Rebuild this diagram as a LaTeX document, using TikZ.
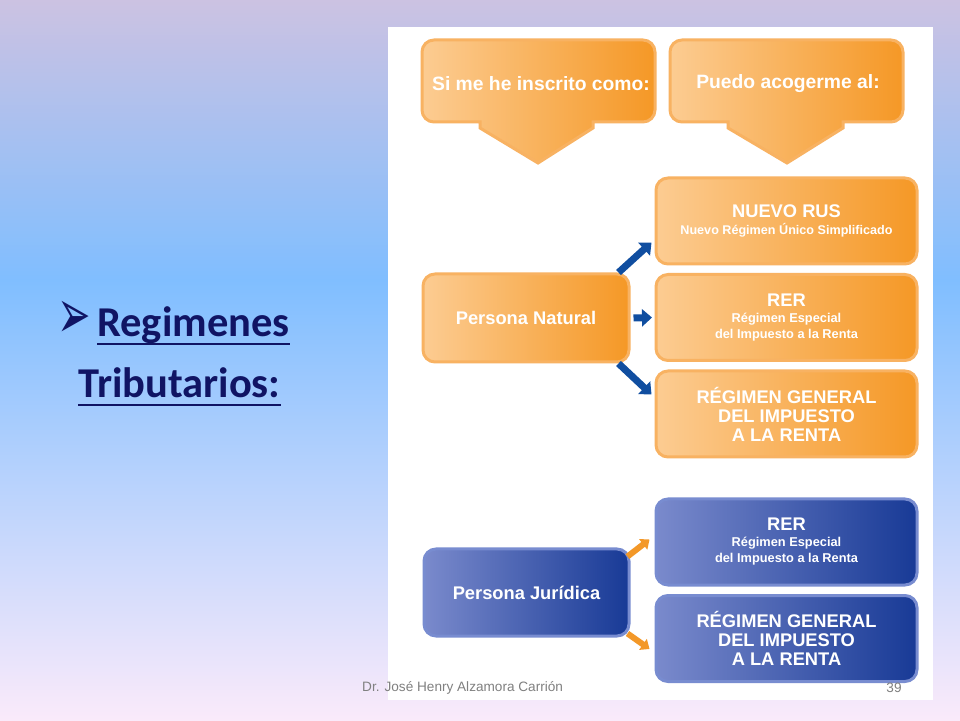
\documentclass[tikz,border=0pt]{standalone}
\usepackage{fontspec}
\usepackage{graphicx}
\setmainfont{Liberation Sans}
\newfontfamily\titlefont{Carlito}
\newfontfamily\symfont{DejaVu Sans}
\usetikzlibrary{arrows.meta}

\definecolor{orlight}{RGB}{252,204,146}
\definecolor{ordark}{RGB}{245,152,38}
\definecolor{orrim}{RGB}{248,178,98}
\definecolor{bllight}{RGB}{122,138,204}
\definecolor{bldark}{RGB}{24,58,150}
\definecolor{blrim}{RGB}{120,140,208}
\definecolor{arrblue}{RGB}{16,78,160}
\definecolor{arrorange}{RGB}{243,152,40}
\definecolor{navy}{RGB}{16,20,100}
\definecolor{bgtop}{RGB}{204,194,226}
\definecolor{bgmid}{RGB}{128,190,255}
\definecolor{bgbot}{RGB}{250,234,250}

\newcommand{\bigtxt}{\fontsize{18.3}{19}\selectfont}
\newcommand{\subtxt}{\fontsize{12.8}{14.5}\selectfont}

\tikzset{
  orbox/.style={rounded corners=12pt, left color=orlight, right color=ordark,
    draw=orrim, line width=3pt, text=white, font=\bfseries\bigtxt,
    align=center, inner sep=0pt, minimum width=261pt, minimum height=86pt},
  blbox/.style={orbox, left color=bllight, right color=bldark, draw=blrim},
  headshape/.style={left color=orlight, right color=ordark, draw=orrim, line width=3pt},
  headtext/.style={text=white, font=\bfseries\fontsize{19.3}{20}\selectfont},
  bluearr/.style={draw=arrblue, line width=7pt, -{Triangle[width=17pt,length=10pt]}},
  orarr/.style={draw=arrorange, line width=6pt, -{Triangle[width=13pt,length=8pt]}},
  titletext/.style={text=navy, font=\titlefont\bfseries\fontsize{42.5}{50}\selectfont, inner sep=0pt},
  uline/.style={draw=navy, line width=2.6pt},
  foot/.style={text=black!50, font=\fontsize{13.6}{16}\selectfont, inner sep=0pt}
}

\begin{document}
\begin{tikzpicture}[x=1pt,y=1pt]
  \useasboundingbox (0,0) rectangle (960,720);
  % background
  \shade[top color=bgtop, bottom color=bgmid] (0,440) rectangle (960,720);
  \shade[top color=bgmid, bottom color=bgbot] (0,0) rectangle (960,440);
  \fill[white] (388,20) rectangle (933,693);

  % title
  \node[titletext, anchor=base west] (reg) at (97,383) {Regimenes};
  \node[titletext, anchor=base west] (trib) at (78,322) {Tributarios:};
  \node[text=navy, font=\symfont\fontsize{40}{40}\selectfont, inner sep=0pt, anchor=south east] (bul) at (91,381) {\scalebox{1}[1.75]{➢}};
  \draw[uline] ([yshift=-7pt]reg.base west) -- ([yshift=-7pt]reg.base east);
  \draw[uline] ([yshift=-7pt]trib.base west) -- ([yshift=-7pt]trib.base east);

  % headers
  \path[headshape] (434,680) -- (643,680) arc[start angle=90,end angle=0,radius=12pt]
    -- (655,610) arc[start angle=0,end angle=-90,radius=12pt] -- (593,598) -- (593,592)
    -- (538,557) -- (480,592) -- (480,598) -- (434,598) arc[start angle=270,end angle=180,radius=12pt]
    -- (422,668) arc[start angle=180,end angle=90,radius=12pt] -- cycle;
  \path[headshape] (682,680) -- (891,680) arc[start angle=90,end angle=0,radius=12pt]
    -- (903,610) arc[start angle=0,end angle=-90,radius=12pt] -- (843,598) -- (843,592)
    -- (787,557) -- (728,592) -- (728,598) -- (682,598) arc[start angle=270,end angle=180,radius=12pt]
    -- (670,668) arc[start angle=180,end angle=90,radius=12pt] -- cycle;
  \node[headtext] (hd1) at (541,636) {Si me he inscrito como:};
  \node[headtext] (hd2) at (788,636) {Puedo acogerme al:};

  % persona natural
  \node[orbox, minimum width=206pt, minimum height=88pt] (pnat) at (526,402) {Persona Natural};
  \node[orbox] (nrus) at (786.5,499) {NUEVO RUS\\[-2.5pt]{\fontsize{12.6}{13}\selectfont Nuevo Régimen Único Simplificado}};
  \node[orbox] (rer) at (786.5,402.5) {RER\\[-3pt]{\subtxt Régimen Especial}\\[-3pt]{\subtxt del Impuesto a la Renta}};
  \node[orbox] (rgen) at (786.5,306) {RÉGIMEN GENERAL\\DEL IMPUESTO\\A LA RENTA};

  \draw[bluearr] ([xshift=-12pt]pnat.north east) -- ([shift={(-3pt,23pt)}]nrus.south west);
  \draw[bluearr, shorten <=3pt, shorten >=2.5pt] (pnat.east) -- (rer.west);
  \draw[bluearr] ([xshift=-12pt]pnat.south east) -- ([shift={(-3pt,-25pt)}]rgen.north west);

  % persona juridica
  \node[blbox, minimum width=205pt, minimum height=87pt] (pjur) at (526.5,127.5) {Persona Jurídica};
  \node[blbox] (rerj) at (786.5,178) {RER\\[-3pt]{\subtxt Régimen Especial}\\[-3pt]{\subtxt del Impuesto a la Renta}};
  \node[blbox] (rgenj) at (786.5,81.5) {RÉGIMEN GENERAL\\DEL IMPUESTO\\A LA RENTA};

  \draw[orarr] ([shift={(-3pt,-9pt)}]pjur.north east) -- ([shift={(-5pt,47pt)}]rerj.south west);
  \draw[orarr] ([shift={(-3pt,4pt)}]pjur.south east) -- ([shift={(-5pt,-55pt)}]rgenj.north west);

  % footer
  \node[foot, anchor=west] (auth) at (362,32) {Dr. José Henry Alzamora Carrión};
  \node[foot] (pg) at (894,32) {39};
\end{tikzpicture}
\end{document}
